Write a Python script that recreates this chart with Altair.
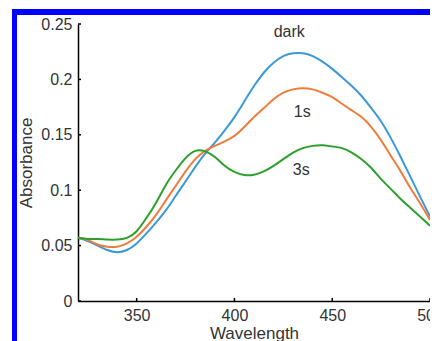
import altair as alt
import pandas as pd

# ---- data ----
wavelength = [320, 325, 330, 335, 340, 345, 350, 355, 360, 365, 370, 375, 380,
              385, 390, 395, 400, 405, 410, 415, 420, 425, 430, 435, 440, 445,
              450, 455, 460, 465, 470, 475, 480, 485, 490, 495, 500]

dark = [0.057, 0.054, 0.050, 0.046, 0.044, 0.046, 0.052, 0.061, 0.071, 0.082,
        0.095, 0.108, 0.121, 0.133, 0.143, 0.154, 0.166, 0.180, 0.194, 0.206,
        0.215, 0.221, 0.2235, 0.2235, 0.221, 0.216, 0.2095, 0.202, 0.194, 0.185,
        0.174, 0.162, 0.147, 0.130, 0.112, 0.094, 0.076]

one_s = [0.057, 0.055, 0.051, 0.049, 0.049, 0.052, 0.058, 0.067, 0.078, 0.091,
         0.104, 0.117, 0.128, 0.1355, 0.140, 0.144, 0.149, 0.157, 0.166, 0.174,
         0.182, 0.188, 0.191, 0.192, 0.191, 0.188, 0.184, 0.178, 0.172, 0.166,
         0.157, 0.145, 0.131, 0.117, 0.102, 0.088, 0.073]

three_s = [0.057, 0.056, 0.056, 0.0555, 0.0555, 0.057, 0.063, 0.075, 0.089, 0.105,
           0.118, 0.129, 0.1355, 0.135, 0.130, 0.122, 0.1165, 0.1137, 0.114, 0.117,
           0.122, 0.128, 0.134, 0.138, 0.140, 0.1405, 0.1395, 0.138, 0.134, 0.128,
           0.120, 0.110, 0.101, 0.092, 0.084, 0.076, 0.068]

series_names = ["dark", "1s", "3s"]
series_colors = ["#3a9ad6", "#f07c3c", "#2ca02c"]

label_text = ["dark", "1s", "3s"]
label_wl = [428.0, 434.7, 434.2]
label_abs = [0.2383, 0.166, 0.1137]

x_ticks = [350, 400, 450, 500]
y_ticks = [0, 0.05, 0.1, 0.15, 0.2, 0.25]

# ---- tables ----
rows = []
for name, vals in zip(series_names, [dark, one_s, three_s]):
    for w, v in zip(wavelength, vals):
        rows.append({"wavelength": w, "absorbance": v, "series": name})
df = pd.DataFrame(rows)
labels_df = pd.DataFrame({"wavelength": label_wl, "absorbance": label_abs, "text": label_text})
xt_df = pd.DataFrame({"wavelength": x_ticks})
yt_df = pd.DataFrame({"absorbance": y_ticks})
one = pd.DataFrame({"k": [0]})

FONT = "Liberation Sans"
x_scale = alt.Scale(domain=[320, 500], nice=False, zero=False)
y_scale = alt.Scale(domain=[0, 0.25], nice=False)

lines = alt.Chart(df).mark_line(strokeWidth=2, interpolate="natural").encode(
    x=alt.X("wavelength:Q", scale=x_scale,
            axis=alt.Axis(values=x_ticks, format="d", title="Wavelength",
                          labelPadding=6, labelFlush=False,
                          titleY=37, titleBaseline="alphabetic")),
    y=alt.Y("absorbance:Q", scale=y_scale,
            axis=alt.Axis(values=y_ticks, format="~g", title="Absorbance",
                          labelPadding=6, labelFlush=False,
                          titleX=-51.5, titleY=138.5, titleBaseline="middle")),
    color=alt.Color("series:N", scale=alt.Scale(domain=series_names, range=series_colors),
                    legend=None),
)

texts = alt.Chart(labels_df).mark_text(
    font=FONT, fontSize=16, color="#333333", align="center", baseline="alphabetic"
).encode(
    x=alt.X("wavelength:Q", scale=x_scale),
    y=alt.Y("absorbance:Q", scale=y_scale),
    text="text:N",
)

xticks = alt.Chart(xt_df).mark_rule(color="black", strokeWidth=1.5).encode(
    x=alt.X("wavelength:Q", scale=x_scale),
    y=alt.value(277), y2=alt.value(274),
)
yticks = alt.Chart(yt_df).mark_rule(color="black", strokeWidth=1.5).encode(
    y=alt.Y("absorbance:Q", scale=y_scale),
    x=alt.value(0), x2=alt.value(3),
)

border_top = alt.Chart(one).mark_rule(color="#0000ff", strokeWidth=6).encode(
    x=alt.value(-66), x2=alt.value(360), y=alt.value(-12)
)
border_left = alt.Chart(one).mark_rule(color="#0000ff", strokeWidth=5).encode(
    x=alt.value(-63.5), y=alt.value(-15), y2=alt.value(317)
)

chart = alt.layer(lines, texts, xticks, yticks, border_top, border_left).properties(
    width=352, height=277,
    padding={"left": 70, "top": 16, "right": 0, "bottom": 40},
    autosize=alt.AutoSizeParams(type="none"),
    background="white",
).configure_view(stroke=None).configure_axis(
    grid=False, domainColor="black", domainWidth=1.5, ticks=False, tickSize=0,
    labelFont=FONT, labelFontSize=16, labelColor="#333333",
    titleFont=FONT, titleFontSize=17, titleColor="#333333", titleFontWeight="normal",
)

chart.save("out.html", embed_options={"renderer": "svg", "actions": False})
